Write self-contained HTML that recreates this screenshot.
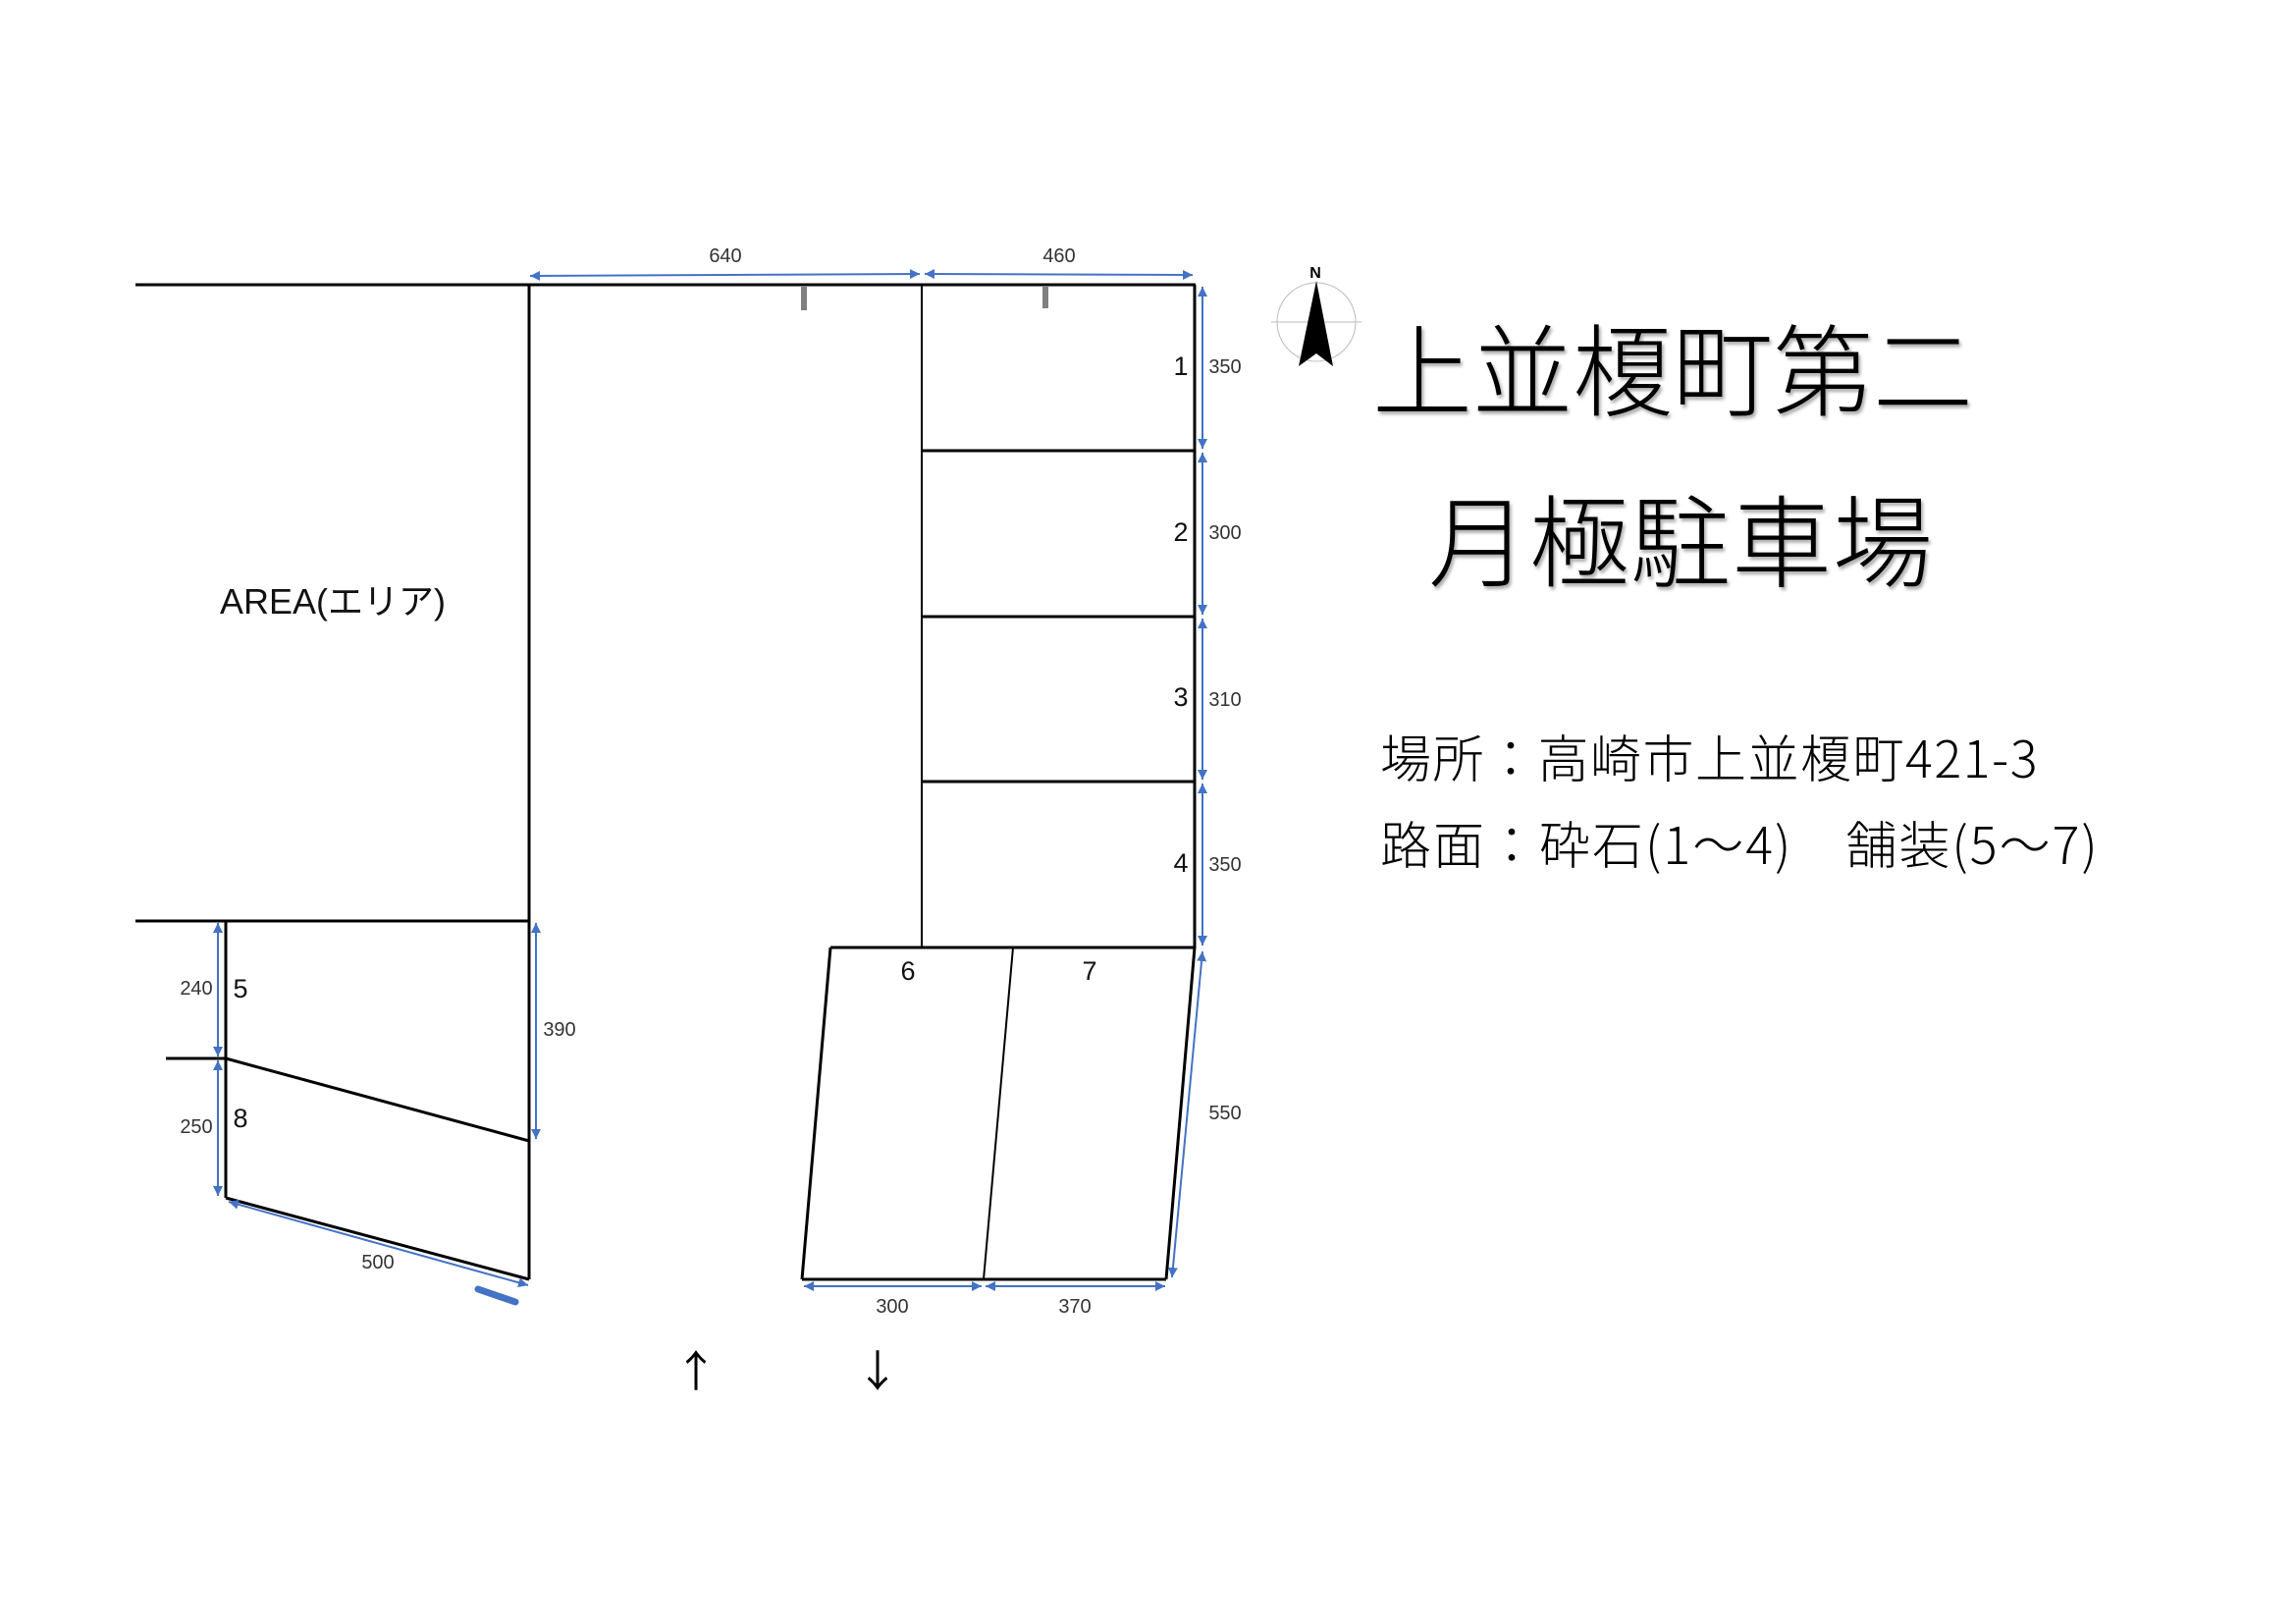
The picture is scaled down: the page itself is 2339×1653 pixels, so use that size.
<!DOCTYPE html>
<html><head><meta charset="utf-8"><style>
html,body{margin:0;padding:0;background:#fff;}
svg{display:block;}
text{font-family:"Liberation Sans","Noto Sans CJK JP",sans-serif;}
.cj{font-family:"Noto Sans CJK JP",sans-serif;}
</style></head><body>
<svg width="2339" height="1653" viewBox="0 0 2339 1653" xmlns="http://www.w3.org/2000/svg">
<defs>
<marker id="a" viewBox="0 0 10 10" refX="10" refY="5" markerWidth="5" markerHeight="5" orient="auto-start-reverse"><path d="M0,0L10,5L0,10z" fill="#4472C4"/></marker>
</defs>
<g transform="translate(-3,-2)">
<g stroke="#000" stroke-width="3" fill="none">
<line x1="141" y1="292" x2="1221" y2="292"/>
<line x1="542" y1="292" x2="542" y2="1305"/>
<line x1="942" y1="292" x2="942" y2="967" stroke-width="2"/>
<line x1="1220" y1="292" x2="1220" y2="967"/>
<line x1="942" y1="461" x2="1220" y2="461"/>
<line x1="942" y1="630" x2="1220" y2="630"/>
<line x1="942" y1="798" x2="1220" y2="798"/>
<line x1="849" y1="967" x2="1220" y2="967"/>
<line x1="141" y1="940" x2="542" y2="940"/>
<line x1="172" y1="1080" x2="233" y2="1080"/>
<line x1="233" y1="940" x2="233" y2="1222"/>
<line x1="233" y1="1080" x2="542" y2="1164"/>
<line x1="233" y1="1222" x2="542" y2="1305"/>
<line x1="849" y1="967" x2="820" y2="1305"/>
<line x1="1220" y1="967" x2="1191" y2="1305"/>
<line x1="820" y1="1305" x2="1191" y2="1305"/>
<line x1="1035" y1="967" x2="1005" y2="1305" stroke-width="2"/>
</g>
<g stroke="#808080" stroke-width="6">
<line x1="822" y1="293" x2="822" y2="318"/>
<line x1="1068" y1="293" x2="1068" y2="316"/>
</g>
<g stroke="#4472C4" stroke-width="2" fill="none" marker-start="url(#a)" marker-end="url(#a)">
<line x1="543" y1="283" x2="940" y2="281"/>
<line x1="945" y1="281" x2="1218" y2="282"/>
<line x1="1228" y1="294" x2="1228" y2="459"/>
<line x1="1228" y1="463" x2="1228" y2="628"/>
<line x1="1228" y1="632" x2="1228" y2="796"/>
<line x1="1228" y1="800" x2="1228" y2="965"/>
<line x1="1228" y1="971" x2="1197" y2="1303"/>
<line x1="822" y1="1312" x2="1003" y2="1312"/>
<line x1="1007" y1="1312" x2="1190" y2="1312"/>
<line x1="225" y1="942" x2="225" y2="1078"/>
<line x1="225" y1="1082" x2="225" y2="1220"/>
<line x1="549" y1="942" x2="549" y2="1162"/>
<line x1="236" y1="1226" x2="541" y2="1311"/>
</g>
<line x1="490" y1="1315" x2="528" y2="1328" stroke="#4472C4" stroke-width="7" stroke-linecap="round"/>
<g font-size="20" fill="#333" text-anchor="middle">
<text x="742" y="269">640</text>
<text x="1082" y="269">460</text>
<text x="1251" y="382">350</text>
<text x="1251" y="551">300</text>
<text x="1251" y="721">310</text>
<text x="1251" y="889">350</text>
<text x="1251" y="1142">550</text>
<text x="912" y="1339">300</text>
<text x="1098" y="1339">370</text>
<text x="203" y="1015">240</text>
<text x="203" y="1156">250</text>
<text x="573" y="1057">390</text>
<text x="388" y="1294">500</text>
</g>
<g font-size="27" fill="#111" text-anchor="middle">
<text x="1206" y="384">1</text>
<text x="1206" y="553">2</text>
<text x="1206" y="721">3</text>
<text x="1206" y="890">4</text>
<text x="248" y="1018">5</text>
<text x="248" y="1150">8</text>
<text x="928" y="1000">6</text>
<text x="1113" y="1000">7</text>
</g>
<text x="342" y="627" font-size="36" text-anchor="middle" fill="#111">AREA(<tspan class="cj">エリア</tspan>)</text>
<text x="712" y="1414" font-size="44" text-anchor="middle" class="cj">↑</text>
<text x="897" y="1414" font-size="44" text-anchor="middle" class="cj">↓</text>
<circle cx="1344" cy="330" r="40" fill="none" stroke="#bbb" stroke-width="1"/>
<line x1="1298" y1="330" x2="1390" y2="330" stroke="#bbb" stroke-width="1"/>
<path d="M1344,288 L1361,375 L1344,362 L1326,375 Z" fill="#000"/>
<text x="1343" y="285" font-size="16" font-weight="bold" text-anchor="middle" font-family="Liberation Serif,serif">N</text>
</g>
<g class="cj" fill="#000">
<text x="1398" y="416" font-size="102" class="cj" font-weight="300" style="text-shadow:2px 3px 3px #aaa">上並榎町第二</text>
<text x="1455" y="590" font-size="102" class="cj" font-weight="300" letter-spacing="1" style="text-shadow:2px 3px 3px #aaa">月極駐車場</text>
<text x="1406" y="792" font-size="52" class="cj" font-weight="300" letter-spacing="1.5">場所：高崎市上並榎町421-3</text>
<text x="1406" y="880" font-size="52" class="cj" font-weight="300" letter-spacing="2">路面：砕石(1～4)　舗装(5～7)</text>
</g>
</svg>
</body></html>
